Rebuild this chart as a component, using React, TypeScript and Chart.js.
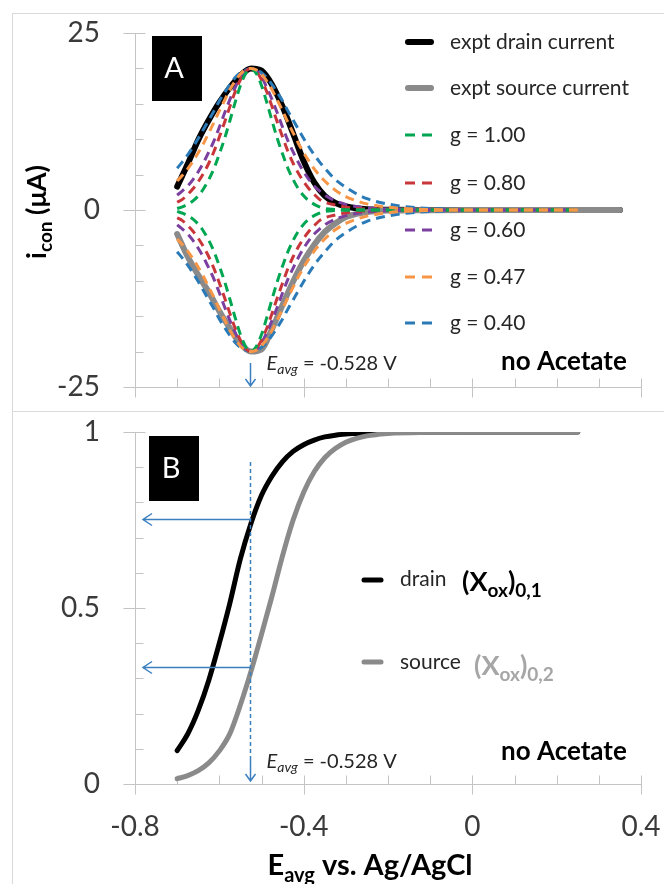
import React, { useEffect, useRef } from 'react';
import { Chart, registerables } from 'chart.js';

Chart.register(...registerables);

// ---------------- data ----------------
// Panel A: conduction currents (µA) vs E_avg (V)
const E_EXPT = [-0.7, -0.675, -0.65, -0.625, -0.6, -0.575, -0.55, -0.525, -0.5, -0.475, -0.45, -0.425, -0.4, -0.375, -0.35, -0.325, -0.3, -0.275, -0.25, -0.225, -0.2, -0.1, 0, 0.1, 0.2, 0.3, 0.35];
const EXPT_DRAIN_CURRENT = [3.3, 6.5, 9.9, 12.7, 15.2, 17.3, 19.0, 20.0, 19.7, 17.7, 14.6, 10.8, 6.9, 3.9, 2.0, 1.0, 0.5, 0.25, 0.12, 0.06, 0.03, 0.01, 0, 0, 0, 0, 0];
const EXPT_SOURCE_CURRENT = [-3.4, -6.6, -9.2, -11.6, -14.3, -16.7, -18.9, -20.0, -19.7, -16.8, -13.4, -10.1, -7.2, -4.9, -3.1, -1.9, -1.0, -0.55, -0.3, -0.15, -0.08, -0.02, 0, 0, 0, 0, 0];

const E_MODEL = [-0.7, -0.6875, -0.675, -0.6625, -0.65, -0.6375, -0.625, -0.6125, -0.6, -0.5875, -0.575, -0.5625, -0.55, -0.5375, -0.525, -0.5125, -0.5, -0.4875, -0.475, -0.4625, -0.45, -0.4375, -0.425, -0.4125, -0.4, -0.3875, -0.375, -0.3625, -0.35, -0.325, -0.3, -0.275, -0.25, -0.2, -0.15, -0.1, 0, 0.1, 0.2, 0.25];
const G100_DRAIN = [0.2, 0.45, 0.8, 1.3, 2.0, 3.0, 4.3, 5.9, 7.9, 10.1, 12.6, 15.2, 17.6, 19.3, 20.0, 19.3, 17.6, 15.2, 12.6, 10.1, 7.9, 5.9, 4.3, 3.0, 2.0, 1.3, 0.8, 0.45, 0.2, 0.08, 0.03, 0, 0, 0, 0, 0, 0, 0, 0, 0];
const G100_SOURCE = [-0.2, -0.45, -0.8, -1.3, -2.0, -3.0, -4.3, -5.9, -7.9, -10.1, -12.6, -15.2, -17.6, -19.3, -20.0, -19.3, -17.6, -15.2, -12.6, -10.1, -7.9, -5.9, -4.3, -3.0, -2.0, -1.3, -0.8, -0.45, -0.2, -0.08, -0.03, 0, 0, 0, 0, 0, 0, 0, 0, 0];
const G080_DRAIN = [1.1, 1.5, 2.2, 3.0, 4.0, 5.2, 6.6, 8.3, 10.3, 12.4, 14.6, 16.7, 18.4, 19.6, 20.0, 19.6, 18.4, 16.7, 14.6, 12.4, 10.3, 8.3, 6.6, 5.2, 4.0, 3.0, 2.2, 1.5, 1.1, 0.7, 0.4, 0.22, 0.12, 0.04, 0.01, 0, 0, 0, 0, 0];
const G080_SOURCE = [-1.1, -1.5, -2.2, -3.0, -4.0, -5.2, -6.6, -8.3, -10.3, -12.4, -14.6, -16.7, -18.4, -19.6, -20.0, -19.6, -18.4, -16.7, -14.6, -12.4, -10.3, -8.3, -6.6, -5.2, -4.0, -3.0, -2.2, -1.5, -1.1, -0.7, -0.4, -0.22, -0.12, -0.04, -0.01, 0, 0, 0, 0, 0];
const G060_DRAIN = [2.1, 2.7, 3.4, 4.3, 5.4, 6.7, 8.2, 9.8, 11.7, 13.7, 15.6, 17.3, 18.8, 19.7, 20.0, 19.7, 18.8, 17.3, 15.6, 13.7, 11.7, 9.8, 8.2, 6.7, 5.4, 4.3, 3.4, 2.7, 2.1, 1.3, 0.8, 0.48, 0.29, 0.1, 0.04, 0.01, 0, 0, 0, 0];
const G060_SOURCE = [-2.1, -2.7, -3.4, -4.3, -5.4, -6.7, -8.2, -9.8, -11.7, -13.7, -15.6, -17.3, -18.8, -19.7, -20.0, -19.7, -18.8, -17.3, -15.6, -13.7, -11.7, -9.8, -8.2, -6.7, -5.4, -4.3, -3.4, -2.7, -2.1, -1.3, -0.8, -0.48, -0.29, -0.1, -0.04, -0.01, 0, 0, 0, 0];
const G047_DRAIN = [4.1, 4.9, 5.8, 6.9, 8.1, 9.4, 10.9, 12.4, 14.0, 15.5, 17.0, 18.2, 19.2, 19.8, 20.0, 19.8, 19.2, 18.2, 17.0, 15.5, 14.0, 12.4, 10.9, 9.4, 8.1, 6.9, 5.8, 4.9, 4.1, 2.8, 1.9, 1.3, 0.86, 0.39, 0.17, 0.07, 0.01, 0, 0, 0];
const G047_SOURCE = [-4.1, -4.9, -5.8, -6.9, -8.1, -9.4, -10.9, -12.4, -14.0, -15.5, -17.0, -18.2, -19.2, -19.8, -20.0, -19.8, -19.2, -18.2, -17.0, -15.5, -14.0, -12.4, -10.9, -9.4, -8.1, -6.9, -5.8, -4.9, -4.1, -2.8, -1.9, -1.3, -0.86, -0.39, -0.17, -0.07, -0.01, 0, 0, 0];
const G040_DRAIN = [5.9, 6.8, 7.8, 8.9, 10.1, 11.4, 12.7, 14.0, 15.4, 16.6, 17.7, 18.7, 19.4, 19.8, 20.0, 19.8, 19.4, 18.7, 17.7, 16.6, 15.4, 14.0, 12.7, 11.4, 10.1, 8.9, 7.8, 6.8, 5.9, 4.3, 3.2, 2.3, 1.6, 0.84, 0.42, 0.21, 0.05, 0.01, 0, 0];
const G040_SOURCE = [-5.9, -6.8, -7.8, -8.9, -10.1, -11.4, -12.7, -14.0, -15.4, -16.6, -17.7, -18.7, -19.4, -19.8, -20.0, -19.8, -19.4, -18.7, -17.7, -16.6, -15.4, -14.0, -12.7, -11.4, -10.1, -8.9, -7.8, -6.8, -5.9, -4.3, -3.2, -2.3, -1.6, -0.84, -0.42, -0.21, -0.05, -0.01, 0, 0];

// Panel B: oxidised mole fractions vs E_avg
const E_XOX = [-0.7, -0.675, -0.65, -0.625, -0.6, -0.575, -0.55, -0.525, -0.5, -0.475, -0.45, -0.425, -0.4, -0.375, -0.35, -0.325, -0.3, -0.275, -0.25, -0.225, -0.2, -0.1, 0, 0.1, 0.2, 0.25];
const XOX_DRAIN = [0.095, 0.142, 0.209, 0.295, 0.4, 0.514, 0.64, 0.74, 0.82, 0.875, 0.916, 0.945, 0.964, 0.977, 0.986, 0.991, 0.994, 0.996, 0.998, 0.999, 0.999, 1, 1, 1, 1, 1];
const XOX_SOURCE = [0.015, 0.024, 0.038, 0.06, 0.094, 0.143, 0.225, 0.32, 0.425, 0.534, 0.649, 0.75, 0.829, 0.887, 0.927, 0.953, 0.971, 0.982, 0.989, 0.993, 0.996, 0.999, 1, 1, 1, 1];

// ticks / annotations
const X_TICK_LABELS = ['-0.8', '-0.4', '0', '0.4'];
const Y_TICK_LABELS_A = ['-25', '0', '25'];
const Y_TICK_LABELS_B = ['0', '0.5', '1'];
const E_AVG = -0.528;
const E_AVG_TEXT = ' = -0.528 V';
const ARROW_LEVELS_B = [0.753, 0.333];
const DASHED_TOP_B = 0.915;
const LEGEND_A = ['expt drain current', 'expt source current', 'g = 1.00', 'g = 0.80', 'g = 0.60', 'g = 0.47', 'g = 0.40'];
const LEGEND_B = ['drain', 'source'];

// ---------------- styles ----------------
const FONT = 'Lato, "Open Sans", sans-serif';
const AXIS_COLOR = '#c4c4c4';
const BORDER_COLOR = '#d9d9d9';
const TICK_COLOR = '#3a3a3a';
const TEXT_COLOR = '#262626';
const ARROW_COLOR = '#3b7fc0';
const C_GREEN = '#00a651';
const C_RED = '#c9363a';
const C_PURPLE = '#7b3fa0';
const C_ORANGE = '#f79646';
const C_BLUE = '#2a7ab8';
const C_GRAY = '#8a8a8a';

type Run = { text: string; font: string; dy?: number; color?: string };

function drawRuns(ctx: CanvasRenderingContext2D, x: number, y: number, runs: Run[], align: 'left' | 'center' = 'left') {
  let total = 0;
  for (const r of runs) { ctx.font = r.font; total += ctx.measureText(r.text).width; }
  let cx = align === 'center' ? x - total / 2 : x;
  ctx.textBaseline = 'alphabetic';
  ctx.textAlign = 'left';
  for (const r of runs) {
    ctx.font = r.font;
    ctx.fillStyle = r.color || '#000';
    ctx.fillText(r.text, cx, y + (r.dy || 0));
    cx += ctx.measureText(r.text).width;
  }
  return total;
}

function labelFor(list: string[], v: number) {
  const f = list.find((l) => Math.abs(parseFloat(l) - v) < 1e-6);
  return f === undefined ? '' : f;
}

function pts(xs: number[], ys: number[]) {
  return xs.map((x, i) => ({ x, y: ys[i] }));
}

function modelDs(label: string, color: string, ys: number[]) {
  return {
    label,
    data: pts(E_MODEL, ys),
    borderColor: color,
    borderWidth: 3,
    borderDash: [9, 6],
    borderCapStyle: 'butt',
    pointRadius: 0,
    fill: false,
    cubicInterpolationMode: 'monotone',
  };
}

function solidDs(label: string, color: string, xs: number[], ys: number[], width: number) {
  return {
    label,
    data: pts(xs, ys),
    borderColor: color,
    borderWidth: width,
    borderCapStyle: 'round',
    borderJoinStyle: 'round',
    pointRadius: 0,
    fill: false,
    cubicInterpolationMode: 'monotone',
  };
}

function axesPlugin(xLabels: string[], yLabels: string[]) {
  return {
    id: 'axesTicks',
    beforeDatasetsDraw(chart: any) {
      const { ctx, chartArea: ca } = chart;
      const xs = chart.scales.x;
      const ys = chart.scales.y;
      const left = Math.round(ca.left) + 0.5;
      const bottom = Math.round(ca.bottom) + 0.5;
      ctx.save();
      ctx.strokeStyle = AXIS_COLOR;
      ctx.lineWidth = 1;
      ctx.beginPath();
      ctx.moveTo(left, ca.top);
      ctx.lineTo(left, bottom);
      ctx.moveTo(left, bottom);
      ctx.lineTo(ca.right, bottom);
      for (const t of xs.ticks) {
        const px = Math.round(xs.getPixelForValue(t.value)) + 0.5;
        const major = labelFor(xLabels, t.value) !== '';
        ctx.moveTo(px, bottom - 9);
        ctx.lineTo(px, major ? bottom + 10 : bottom);
      }
      for (const t of ys.ticks) {
        const py = Math.round(ys.getPixelForValue(t.value)) + 0.5;
        const major = labelFor(yLabels, t.value) !== '';
        if (major) { ctx.moveTo(left - 12, py); ctx.lineTo(left + 10, py); }
        else { ctx.moveTo(left, py); ctx.lineTo(left + 8, py); }
      }
      ctx.stroke();
      ctx.restore();
    },
  };
}

function drawLabelBox(ctx: CanvasRenderingContext2D, x: number, y: number, letter: string) {
  ctx.fillStyle = '#000';
  ctx.fillRect(x, y, 50, 65);
  ctx.fillStyle = '#fff';
  ctx.font = `29px ${FONT}`;
  ctx.textAlign = 'center';
  ctx.textBaseline = 'middle';
  ctx.fillText(letter, x + 22, y + 33);
}

function eavgRuns(): Run[] {
  return [
    { text: 'E', font: `italic 20px ${FONT}`, color: TEXT_COLOR },
    { text: 'avg', font: `italic 14px ${FONT}`, dy: 4, color: TEXT_COLOR },
    { text: E_AVG_TEXT, font: `20px ${FONT}`, color: TEXT_COLOR },
  ];
}

function drawDownArrow(ctx: CanvasRenderingContext2D, x: number, y0: number, y1: number) {
  ctx.beginPath();
  ctx.moveTo(x, y0);
  ctx.lineTo(x, y1);
  ctx.moveTo(x - 5, y1 - 7);
  ctx.lineTo(x, y1);
  ctx.lineTo(x + 5, y1 - 7);
  ctx.stroke();
}

const overlayA = {
  id: 'overlayA',
  afterDraw(chart: any) {
    const { ctx, chartArea: ca } = chart;
    const xs = chart.scales.x;
    ctx.save();
    // panel frame
    ctx.strokeStyle = BORDER_COLOR;
    ctx.lineWidth = 1;
    ctx.beginPath();
    ctx.moveTo(12, 13.5); ctx.lineTo(664, 13.5);
    ctx.moveTo(12.5, 13); ctx.lineTo(12.5, 411);
    ctx.stroke();

    drawLabelBox(ctx, 152, 36, 'A');

    // legend
    const rows = [42, 88, 135, 183, 230, 277, 323];
    LEGEND_A.forEach((label, i) => {
      const ds = chart.data.datasets.find((d: any) => d.label === label);
      const y = rows[i];
      ctx.save();
      ctx.strokeStyle = ds.borderColor;
      ctx.lineWidth = ds.borderDash ? 3 : 6;
      ctx.lineCap = ds.borderDash ? 'butt' : 'round';
      ctx.setLineDash(ds.borderDash ? [10, 7] : []);
      ctx.beginPath();
      ctx.moveTo(ds.borderDash ? 405 : 408, y);
      ctx.lineTo(ds.borderDash ? 433 : 431, y);
      ctx.stroke();
      ctx.restore();
      ctx.fillStyle = TEXT_COLOR;
      ctx.font = `21px ${FONT}`;
      ctx.textAlign = 'left';
      ctx.textBaseline = 'middle';
      ctx.fillText(label, 450, y);
    });

    // y title
    ctx.save();
    ctx.translate(46, 212);
    ctx.rotate(-Math.PI / 2);
    drawRuns(ctx, 0, 0, [
      { text: 'i', font: `bold 27px ${FONT}`, color: '#000' },
      { text: 'con', font: `bold 19px ${FONT}`, dy: 6, color: '#000' },
      { text: ' (μA)', font: `bold 27px ${FONT}`, color: '#000' },
    ], 'center');
    ctx.restore();

    // E_avg marker
    const xa = Math.round(xs.getPixelForValue(E_AVG)) + 0.5;
    ctx.strokeStyle = ARROW_COLOR;
    ctx.lineWidth = 1.5;
    ctx.setLineDash([]);
    drawDownArrow(ctx, xa, ca.bottom - 24, ca.bottom - 1);
    drawRuns(ctx, xa + 16, ca.bottom - 17, eavgRuns());

    ctx.fillStyle = '#000';
    ctx.font = `bold 26px ${FONT}`;
    ctx.textAlign = 'left';
    ctx.textBaseline = 'middle';
    ctx.fillText('no Acetate', 501, 362);
    ctx.restore();
  },
};

const overlayB = {
  id: 'overlayB',
  afterDraw(chart: any) {
    const { ctx, chartArea: ca } = chart;
    const xs = chart.scales.x;
    const ys = chart.scales.y;
    ctx.save();
    ctx.strokeStyle = BORDER_COLOR;
    ctx.lineWidth = 1;
    ctx.beginPath();
    ctx.moveTo(12, 0.5); ctx.lineTo(664, 0.5);
    ctx.moveTo(12.5, 0); ctx.lineTo(12.5, 473);
    ctx.stroke();

    drawLabelBox(ctx, 149, 25, 'B');

    // arrows
    const xa = Math.round(xs.getPixelForValue(E_AVG)) + 0.5;
    ctx.strokeStyle = ARROW_COLOR;
    ctx.lineWidth = 1.5;
    ctx.setLineDash([4, 3]);
    ctx.beginPath();
    ctx.moveTo(xa, ys.getPixelForValue(DASHED_TOP_B));
    ctx.lineTo(xa, ca.bottom - 24);
    ctx.stroke();
    ctx.setLineDash([]);
    drawDownArrow(ctx, xa, ca.bottom - 24, ca.bottom - 3);
    const xl = ca.left + 8;
    for (const lvl of ARROW_LEVELS_B) {
      const py = Math.round(ys.getPixelForValue(lvl)) + 0.5;
      ctx.beginPath();
      ctx.moveTo(xa, py);
      ctx.lineTo(xl, py);
      ctx.moveTo(xl + 9, py - 6);
      ctx.lineTo(xl, py);
      ctx.lineTo(xl + 9, py + 6);
      ctx.stroke();
    }
    drawRuns(ctx, xa + 16, ca.bottom - 16, eavgRuns());

    // legend
    const rowsB = [
      { sampleY: 169, textY: 175, bigY: 180, bigX: 462, bigColor: '#000', sub: '0,1' },
      { sampleY: 251, textY: 258, bigY: 264, bigX: 474, bigColor: '#a6a6a6', sub: '0,2' },
    ];
    LEGEND_B.forEach((label, i) => {
      const ds = chart.data.datasets.find((d: any) => d.label === label);
      const r = rowsB[i];
      ctx.strokeStyle = ds.borderColor;
      ctx.lineWidth = 5;
      ctx.lineCap = 'round';
      ctx.beginPath();
      ctx.moveTo(364, r.sampleY);
      ctx.lineTo(381, r.sampleY);
      ctx.stroke();
      drawRuns(ctx, 400, r.textY, [{ text: label, font: `21px ${FONT}`, color: TEXT_COLOR }]);
      drawRuns(ctx, r.bigX, r.bigY, [
        { text: '(X', font: `bold 27px ${FONT}`, color: r.bigColor },
        { text: 'ox', font: `bold 19px ${FONT}`, dy: 6, color: r.bigColor },
        { text: ')', font: `bold 27px ${FONT}`, color: r.bigColor },
        { text: r.sub, font: `bold 19px ${FONT}`, dy: 6, color: r.bigColor },
      ]);
    });

    // x title
    drawRuns(ctx, 370, 464, [
      { text: 'E', font: `bold 29px ${FONT}`, color: '#000' },
      { text: 'avg', font: `bold 20px ${FONT}`, dy: 7, color: '#000' },
      { text: ' vs. Ag/AgCl', font: `bold 29px ${FONT}`, color: '#000' },
    ], 'center');

    ctx.fillStyle = '#000';
    ctx.font = `bold 26px ${FONT}`;
    ctx.textAlign = 'left';
    ctx.textBaseline = 'middle';
    ctx.fillText('no Acetate', 501, 341);
    ctx.restore();
  },
};

const baseOptions = {
  responsive: false,
  animation: false,
  devicePixelRatio: 1,
  events: [],
  plugins: { legend: { display: false }, tooltip: { enabled: false } },
  elements: { point: { radius: 0 } },
};

function zeroPadding(s: any) {
  s.paddingTop = 0;
  s.paddingBottom = 0;
  s.paddingLeft = 0;
  s.paddingRight = 0;
}

function xScale(showLabels: boolean, height: number) {
  return {
    type: 'linear',
    min: -0.8,
    max: 0.4,
    grid: { display: false, drawTicks: false },
    border: { display: false },
    ticks: {
      display: showLabels,
      stepSize: 0.1,
      autoSkip: false,
      maxRotation: 0,
      padding: 26,
      color: TICK_COLOR,
      font: { family: FONT, size: 28 },
      callback: (v: number) => labelFor(X_TICK_LABELS, v),
    },
    afterFit: (s: any) => { s.height = height; zeroPadding(s); },
  };
}

function yScale(min: number, max: number, step: number, labels: string[]) {
  return {
    type: 'linear',
    min,
    max,
    grid: { display: false, drawTicks: false },
    border: { display: false },
    ticks: {
      stepSize: step,
      autoSkip: false,
      padding: 35,
      color: TICK_COLOR,
      font: { family: FONT, size: 28 },
      callback: (v: number) => labelFor(labels, v),
    },
    afterFit: (s: any) => { s.width = 135; zeroPadding(s); },
  };
}

export default function App() {
  const refA = useRef<HTMLCanvasElement>(null);
  const refB = useRef<HTMLCanvasElement>(null);

  useEffect(() => {
    const chartA = new Chart(refA.current as HTMLCanvasElement, {
      type: 'line',
      data: {
        datasets: [
          modelDs('g = 0.47', C_ORANGE, G047_DRAIN),
          modelDs('g = 0.47', C_ORANGE, G047_SOURCE),
          modelDs('g = 1.00', C_GREEN, G100_DRAIN),
          modelDs('g = 1.00', C_GREEN, G100_SOURCE),
          modelDs('g = 0.80', C_RED, G080_DRAIN),
          modelDs('g = 0.80', C_RED, G080_SOURCE),
          modelDs('g = 0.60', C_PURPLE, G060_DRAIN),
          modelDs('g = 0.60', C_PURPLE, G060_SOURCE),
          modelDs('g = 0.40', C_BLUE, G040_DRAIN),
          modelDs('g = 0.40', C_BLUE, G040_SOURCE),
          solidDs('expt source current', C_GRAY, E_EXPT, EXPT_SOURCE_CURRENT, 6),
          solidDs('expt drain current', '#000000', E_EXPT, EXPT_DRAIN_CURRENT, 6),
        ] as any,
      },
      options: {
        ...baseOptions,
        layout: { autoPadding: false, padding: { left: 0, right: 23, top: 33, bottom: 0 } },
        scales: {
          x: xScale(false, 24),
          y: yScale(-25, 25, 5, Y_TICK_LABELS_A),
        },
      } as any,
      plugins: [axesPlugin(X_TICK_LABELS, Y_TICK_LABELS_A), overlayA] as any,
    });

    const chartB = new Chart(refB.current as HTMLCanvasElement, {
      type: 'line',
      data: {
        datasets: [
          solidDs('source', C_GRAY, E_XOX, XOX_SOURCE, 5),
          solidDs('drain', '#000000', E_XOX, XOX_DRAIN, 5),
        ] as any,
      },
      options: {
        ...baseOptions,
        layout: { autoPadding: false, padding: { left: 0, right: 23, top: 21, bottom: 0 } },
        scales: {
          x: xScale(true, 100),
          y: yScale(0, 1, 0.1, Y_TICK_LABELS_B),
        },
      } as any,
      plugins: [axesPlugin(X_TICK_LABELS, Y_TICK_LABELS_B), overlayB] as any,
    });

    return () => {
      chartA.destroy();
      chartB.destroy();
    };
  }, []);

  return (
    <div style={{ position: 'fixed', left: 0, top: 0, width: 664, height: 884, background: '#fff', overflow: 'hidden' }}>
      <canvas ref={refA} width={664} height={411} style={{ position: 'absolute', left: 0, top: 0, width: 664, height: 411 }} />
      <canvas ref={refB} width={664} height={473} style={{ position: 'absolute', left: 0, top: 411, width: 664, height: 473 }} />
    </div>
  );
}
